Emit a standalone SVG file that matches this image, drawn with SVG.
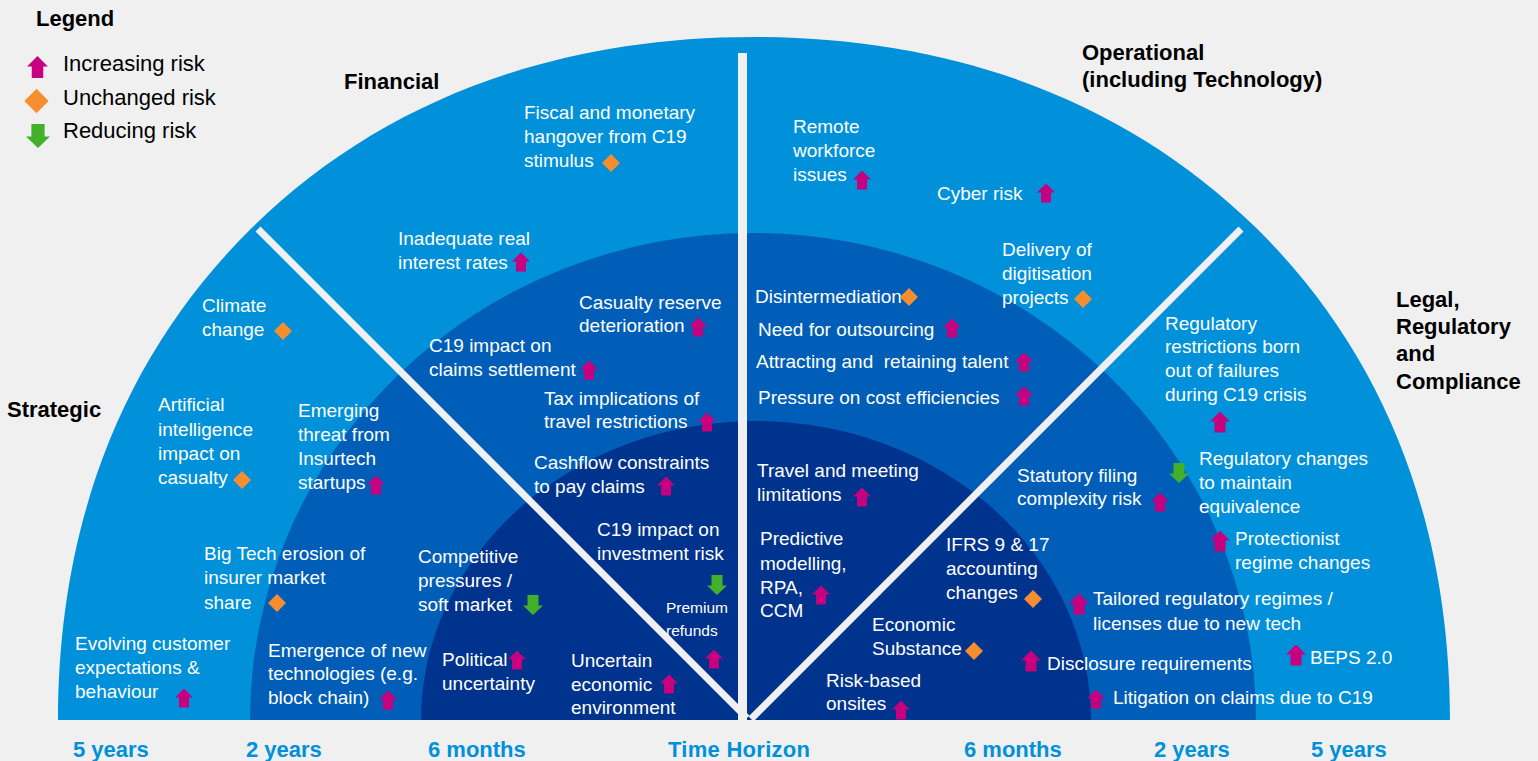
<svg xmlns="http://www.w3.org/2000/svg" width="1538" height="761" viewBox="0 0 1538 761">
<defs>
<style>
.t{font-family:"Liberation Sans",Arial,sans-serif;font-size:19px;fill:#fff}
.ts{font-size:15.5px}
.hd{font-family:"Liberation Sans",Arial,sans-serif;font-size:22px;font-weight:bold;fill:#000}
.lg{font-family:"Liberation Sans",Arial,sans-serif;font-size:22px;fill:#000}
.th{font-family:"Liberation Sans",Arial,sans-serif;font-size:22px;font-weight:bold;fill:#0091DA}
.up{fill:#C6007E}
.dn{fill:#43B02A}
.dm{fill:#F68D2E}
.dv{stroke:#f0f0f0;fill:none;stroke-linecap:butt}
</style>
<path id="up" d="M0,-9.5 L9,-0.5 L5,-0.5 L5,9.5 L-5,9.5 L-5,-0.5 L-9,-0.5 Z"/>
<path id="dn" d="M0,10 L10,0.5 L5.5,0.5 L5.5,-10 L-5.5,-10 L-5.5,0.5 L-10,0.5 Z"/>
<path id="dm" d="M0,-9 L9,0 L0,9 L-9,0 Z"/>
</defs>
<rect width="1538" height="761" fill="#f0f0f0"/>
<g id="rings">
<path d="M58,720 C58,517.8 126.9,350.5 252.2,227.6 C377.5,104.6 548,37 754,37 C960,37 1130.5,104.6 1255.8,227.6 C1381.1,350.5 1450,517.8 1450,720 Z" fill="#0091DA"/>
<path d="M250,720 A503,487 0 0 1 1256,720 Z" fill="#005EB8"/>
<path d="M421,720 A335,299 0 0 1 1091,720 Z" fill="#00338D"/>
</g>
<g id="connectors">
<path class="dv" stroke-width="9" d="M742.5,53 L742.5,720"/>
<path class="dv" stroke-width="7" d="M258,229 L747,718"/>
<path class="dv" stroke-width="7" d="M1241,229 L751,719"/>
</g>
<g id="legend">
<text class="hd" x="36" y="26">Legend</text>
<use href="#up" class="up" transform="translate(37.5,67) scale(1.15)"/>
<text class="lg" x="63" y="71">Increasing risk</text>
<use href="#dm" class="dm" transform="translate(36.5,101) scale(1.35)"/>
<text class="lg" x="63" y="105">Unchanged risk</text>
<use href="#dn" class="dn" transform="translate(38,136) scale(1.2)"/>
<text class="lg" x="63" y="138">Reducing risk</text>
</g>
<g id="cat-financial"><text class="hd" x="344" y="89">Financial</text></g>
<g id="cat-operational"><text class="hd" x="1082" y="60">Operational</text><text class="hd" x="1082" y="87">(including Technology)</text></g>
<g id="cat-strategic"><text class="hd" x="7" y="417">Strategic</text></g>
<g id="cat-legal"><text class="hd" x="1396"><tspan x="1396" y="307">Legal,</tspan><tspan x="1396" y="334">Regulatory</tspan><tspan x="1396" y="361">and</tspan><tspan x="1396" y="389">Compliance</tspan></text></g>
<g id="time-axis">
<text class="th" x="73" y="757">5 years</text>
<text class="th" x="246" y="757">2 years</text>
<text class="th" x="428" y="757">6 months</text>
<text class="th" x="668" y="757" textLength="142">Time Horizon</text>
<text class="th" x="964" y="757">6 months</text>
<text class="th" x="1154" y="757">2 years</text>
<text class="th" x="1311" y="757">5 years</text>
</g>
<g id="n-fiscal"><text class="t"><tspan x="524" y="119">Fiscal and monetary</tspan><tspan x="524" y="143">hangover from C19</tspan><tspan x="524" y="167">stimulus</tspan></text><use href="#dm" class="dm" x="611" y="163"/></g>
<g id="n-interest"><text class="t"><tspan x="398" y="245">Inadequate real</tspan><tspan x="398" y="269">interest rates</tspan></text><use href="#up" class="up" x="521" y="262"/></g>
<g id="n-remote"><text class="t"><tspan x="793" y="133">Remote</tspan><tspan x="793" y="157">workforce</tspan><tspan x="793" y="181">issues</tspan></text><use href="#up" class="up" x="862" y="180"/></g>
<g id="n-cyber"><text class="t" x="937" y="200">Cyber risk</text><use href="#up" class="up" x="1046" y="193"/></g>
<g id="n-digitisation"><text class="t"><tspan x="1002" y="256">Delivery of</tspan><tspan x="1002" y="280">digitisation</tspan><tspan x="1002" y="304">projects</tspan></text><use href="#dm" class="dm" x="1083" y="299"/></g>
<g id="n-climate"><text class="t"><tspan x="202" y="312">Climate</tspan><tspan x="202" y="336">change</tspan></text><use href="#dm" class="dm" x="283" y="331"/></g>
<g id="n-ai"><text class="t"><tspan x="158" y="411">Artificial</tspan><tspan x="158" y="436">intelligence</tspan><tspan x="158" y="460">impact on</tspan><tspan x="158" y="484">casualty</tspan></text><use href="#dm" class="dm" x="242" y="480"/></g>
<g id="n-insurtech"><text class="t"><tspan x="298" y="417">Emerging</tspan><tspan x="298" y="441">threat from</tspan><tspan x="298" y="465">Insurtech</tspan><tspan x="298" y="489">startups</tspan></text><use href="#up" class="up" x="376" y="485"/></g>
<g id="n-bigtech"><text class="t"><tspan x="204" y="560">Big Tech erosion of</tspan><tspan x="204" y="584">insurer market</tspan><tspan x="204" y="609">share</tspan></text><use href="#dm" class="dm" x="277" y="603"/></g>
<g id="n-customer"><text class="t"><tspan x="75" y="650">Evolving customer</tspan><tspan x="75" y="674">expectations &amp;</tspan><tspan x="75" y="698">behaviour</tspan></text><use href="#up" class="up" x="184" y="698"/></g>
<g id="n-newtech"><text class="t"><tspan x="268" y="657">Emergence of new</tspan><tspan x="268" y="680">technologies (e.g.</tspan><tspan x="268" y="704">block chain)</tspan></text><use href="#up" class="up" x="388" y="700"/></g>
<g id="n-reserve"><text class="t"><tspan x="579" y="309">Casualty reserve</tspan><tspan x="579" y="332">deterioration</tspan></text><use href="#up" class="up" x="698" y="327"/></g>
<g id="n-claims"><text class="t"><tspan x="429" y="352">C19 impact on</tspan><tspan x="429" y="376">claims settlement</tspan></text><use href="#up" class="up" x="589" y="370"/></g>
<g id="n-tax"><text class="t"><tspan x="544" y="405">Tax implications of</tspan><tspan x="544" y="428">travel restrictions</tspan></text><use href="#up" class="up" x="707" y="422"/></g>
<g id="n-cashflow"><text class="t"><tspan x="534" y="469">Cashflow constraints</tspan><tspan x="534" y="493">to pay claims</tspan></text><use href="#up" class="up" x="666" y="486"/></g>
<g id="n-investment"><text class="t"><tspan x="597" y="536">C19 impact on</tspan><tspan x="597" y="560">investment risk</tspan></text><use href="#dn" class="dn" x="717" y="585"/></g>
<g id="n-premium"><text class="t ts"><tspan x="666" y="613">Premium</tspan><tspan x="666" y="636">refunds</tspan></text><use href="#up" class="up" x="714" y="659"/></g>
<g id="n-competitive"><text class="t"><tspan x="418" y="563">Competitive</tspan><tspan x="418" y="587">pressures /</tspan><tspan x="418" y="611">soft market</tspan></text><use href="#dn" class="dn" x="533" y="605"/></g>
<g id="n-political"><text class="t"><tspan x="442" y="666">Political</tspan><tspan x="442" y="690">uncertainty</tspan></text><use href="#up" class="up" x="517" y="660"/></g>
<g id="n-economic"><text class="t"><tspan x="571" y="667">Uncertain</tspan><tspan x="571" y="691">economic</tspan><tspan x="571" y="714">environment</tspan></text><use href="#up" class="up" x="669" y="684"/></g>
<g id="n-disinter"><text class="t" x="755" y="303">Disintermediation</text><use href="#dm" class="dm" x="909" y="297"/></g>
<g id="n-outsourcing"><text class="t" x="758" y="336">Need for outsourcing</text><use href="#up" class="up" x="952" y="328"/></g>
<g id="n-talent"><text class="t" x="756" y="368" xml:space="preserve">Attracting and  retaining talent</text><use href="#up" class="up" x="1024" y="362"/></g>
<g id="n-cost"><text class="t" x="758" y="404">Pressure on cost efficiencies</text><use href="#up" class="up" x="1024" y="396"/></g>
<g id="n-travel"><text class="t"><tspan x="757" y="477">Travel and meeting</tspan><tspan x="757" y="501">limitations</tspan></text><use href="#up" class="up" x="862" y="497"/></g>
<g id="n-predictive"><text class="t"><tspan x="760" y="545">Predictive</tspan><tspan x="760" y="570">modelling,</tspan><tspan x="760" y="594">RPA,</tspan><tspan x="760" y="617">CCM</tspan></text><use href="#up" class="up" x="821" y="595"/></g>
<g id="n-ifrs"><text class="t"><tspan x="946" y="551">IFRS 9 &amp; 17</tspan><tspan x="946" y="575">accounting</tspan><tspan x="946" y="599">changes</tspan></text><use href="#dm" class="dm" x="1033" y="599"/></g>
<g id="n-substance"><text class="t"><tspan x="872" y="631">Economic</tspan><tspan x="872" y="655">Substance</tspan></text><use href="#dm" class="dm" x="974" y="651"/></g>
<g id="n-onsites"><text class="t"><tspan x="826" y="687">Risk-based</tspan><tspan x="826" y="710">onsites</tspan></text><use href="#up" class="up" x="901" y="710"/></g>
<g id="n-disclosure"><use href="#up" class="up" transform="translate(1031,661) scale(1.1)"/><text class="t" x="1047" y="670">Disclosure requirements</text></g>
<g id="n-litigation"><use href="#up" class="up" x="1096" y="699"/><text class="t" x="1113" y="704">Litigation on claims due to C19</text></g>
<g id="n-tailored"><use href="#up" class="up" transform="translate(1079,604) scale(1.1)"/><text class="t"><tspan x="1093" y="605">Tailored regulatory regimes /</tspan><tspan x="1093" y="630">licenses due to new tech</tspan></text></g>
<g id="n-statutory"><text class="t"><tspan x="1017" y="482">Statutory filing</tspan><tspan x="1017" y="505">complexity risk</tspan></text><use href="#up" class="up" x="1160" y="502"/></g>
<g id="n-restrictions"><text class="t"><tspan x="1165" y="330">Regulatory</tspan><tspan x="1165" y="353">restrictions born</tspan><tspan x="1165" y="377">out of failures</tspan><tspan x="1165" y="401">during C19 crisis</tspan></text><use href="#up" class="up" transform="translate(1220,422) scale(1.1)"/></g>
<g id="n-equivalence"><use href="#dn" class="dn" x="1179" y="473"/><text class="t"><tspan x="1199" y="465">Regulatory changes</tspan><tspan x="1199" y="489">to maintain</tspan><tspan x="1199" y="513">equivalence</tspan></text></g>
<g id="n-protectionist"><use href="#up" class="up" transform="translate(1220,541) scale(1.1)"/><text class="t"><tspan x="1235" y="545">Protectionist</tspan><tspan x="1235" y="569">regime changes</tspan></text></g>
<g id="n-beps"><use href="#up" class="up" transform="translate(1296,655) scale(1.1)"/><text class="t" x="1310" y="664">BEPS 2.0</text></g>
</svg>
